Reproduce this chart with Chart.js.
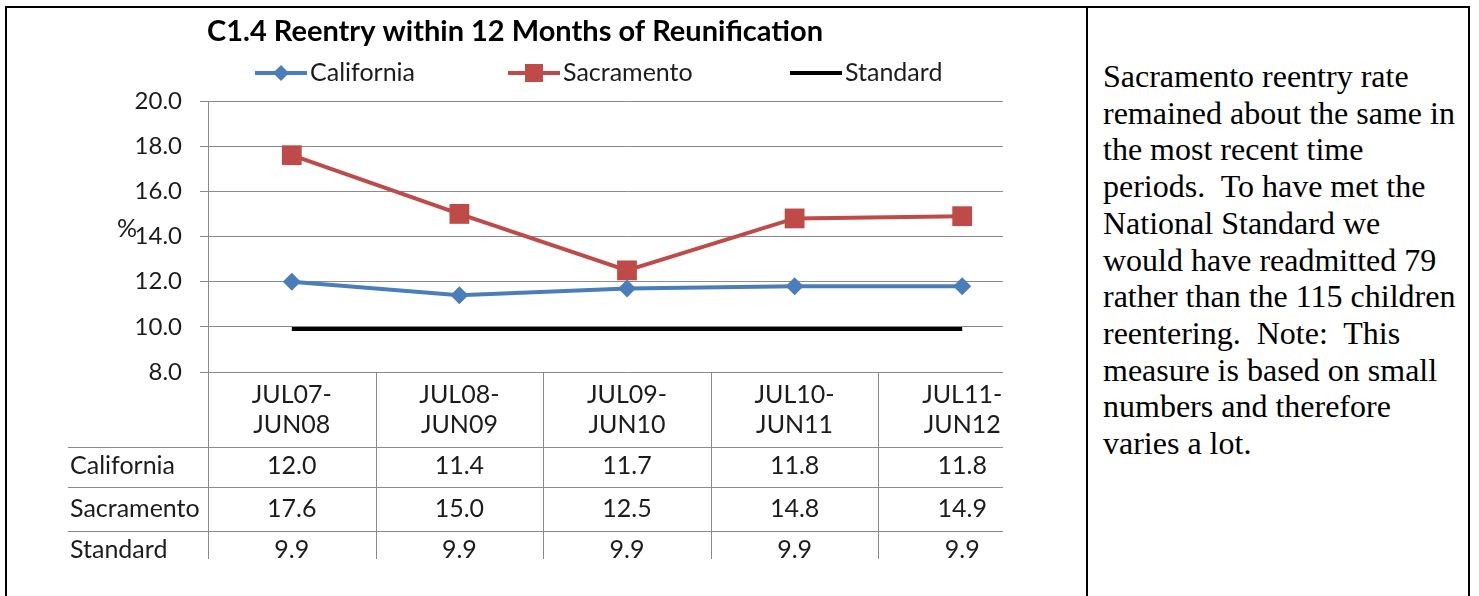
<!DOCTYPE html>
<html>
<head>
<meta charset="utf-8">
<script src="https://cdn.jsdelivr.net/npm/chart.js@4/dist/chart.umd.min.js"></script>
<style>
  html, body { margin: 0; padding: 0; background: #fff; width: 1479px; height: 596px; overflow: hidden; }
  #frame { position: absolute; left: 5px; top: 6px; width: 1465px; height: 620px; border: 2px solid #000; box-sizing: border-box; }
  #divider { position: absolute; left: 1086px; top: 6px; width: 2px; height: 620px; background: #000; }
  #chartWrap { position: absolute; left: 0; top: 0; width: 1003px; height: 559px; overflow: hidden; }
  #note { position: absolute; left: 1103px; top: 58px; width: 370px; font-family: "Liberation Serif", "Times New Roman", serif; font-size: 32px; line-height: 36.7px; color: #000; white-space: nowrap; }
</style>
</head>
<body>
<div id="frame"></div>
<div id="divider"></div>
<div id="chartWrap"><canvas id="c" width="1060" height="596"></canvas></div>
<div id="note">Sacramento reentry rate<br>remained about the same in<br>the most recent time<br>periods.&nbsp; To have met the<br>National Standard we<br>would have readmitted 79<br>rather than the 115 children<br>reentering.&nbsp; Note:&nbsp; This<br>measure is based on small<br>numbers and therefore<br>varies a lot.</div>
<script>
const categories = [["JUL07-", "JUN08"], ["JUL08-", "JUN09"], ["JUL09-", "JUN10"], ["JUL10-", "JUN11"], ["JUL11-", "JUN12"]];
const california = [12.0, 11.4, 11.7, 11.8, 11.8];
const sacramento = [17.6, 15.0, 12.5, 14.8, 14.9];
const standard = [9.9, 9.9, 9.9, 9.9, 9.9];
const yMin = 8, yMax = 20, yStep = 2;
const chartTitle = "C1.4 Reentry within 12 Months of Reunification";
const yTitle = "%";

const FONT = "Lato, 'Noto Sans', sans-serif";
const TEXT = "#1c1c1c";
const GRID = "#8a8a8a";
const FS = 25;

function marker(ctx, style, color, x, y, r) {
  ctx.save();
  ctx.fillStyle = color;
  ctx.beginPath();
  if (style === 'rectRot') {
    ctx.moveTo(x, y - r); ctx.lineTo(x + r, y); ctx.lineTo(x, y + r); ctx.lineTo(x - r, y); ctx.closePath();
  } else if (style === 'rect') {
    ctx.rect(x - r, y - r, 2 * r, 2 * r);
  }
  ctx.fill();
  ctx.restore();
}

const decorPlugin = {
  id: 'decor',
  afterDraw(chart) {
    const ctx = chart.ctx;
    const xs = chart.scales.x, ys = chart.scales.y;
    const area = chart.chartArea;
    ctx.save();
    // Title
    ctx.fillStyle = "#000";
    ctx.font = "bold 29px " + FONT;
    ctx.textAlign = "center";
    ctx.textBaseline = "middle";
    ctx.fillText(chartTitle, 515, 32);

    // Legend
    const legendX = [255, 508, 790];
    const legendY = 73;
    ctx.font = FS + "px " + FONT;
    ctx.textAlign = "left";
    chart.data.datasets.forEach((ds, i) => {
      const x0 = legendX[i];
      ctx.strokeStyle = ds.borderColor;
      ctx.lineWidth = 4;
      ctx.beginPath(); ctx.moveTo(x0, legendY); ctx.lineTo(x0 + 52, legendY); ctx.stroke();
      if (ds.pointStyle && ds.pointRadius > 0) {
        marker(ctx, ds.pointStyle, ds.backgroundColor, x0 + 26, legendY, ds.pointStyle === 'rect' ? 9 : 8);
      }
      ctx.fillStyle = TEXT;
      ctx.fillText(ds.label, x0 + 55, legendY);
    });

    // Y axis title
    ctx.font = FS + "px " + FONT;
    ctx.textAlign = "center";
    ctx.fillText(yTitle, 127, (area.top + area.bottom) / 2 - 8);

    // Data table
    const n = categories.length;
    const half = (xs.getPixelForValue(1) - xs.getPixelForValue(0)) / 2;
    const rowLines = [area.bottom + 75, area.bottom + 115, area.bottom + 159];
    const tableBottom = 600;
    ctx.strokeStyle = GRID;
    ctx.lineWidth = 1;
    for (let i = 0; i <= n; i++) {
      const x = Math.round(xs.getPixelForValue(0) - half + i * 2 * half) + 0.5;
      ctx.beginPath(); ctx.moveTo(x, area.bottom); ctx.lineTo(x, tableBottom); ctx.stroke();
    }
    rowLines.forEach(y => {
      ctx.beginPath(); ctx.moveTo(68, Math.round(y) + 0.5); ctx.lineTo(area.right, Math.round(y) + 0.5); ctx.stroke();
    });
    ctx.fillStyle = TEXT;
    ctx.font = FS + "px " + FONT;
    ctx.textAlign = "center";
    ctx.textBaseline = "middle";
    categories.forEach((lines, i) => {
      const x = xs.getPixelForValue(i);
      ctx.fillText(lines[0], x, area.bottom + 23);
      ctx.fillText(lines[1], x, area.bottom + 53);
    });
    const rowCenters = [area.bottom + 94, area.bottom + 137, area.bottom + 178];
    chart.data.datasets.forEach((ds, r) => {
      ctx.textAlign = "left";
      ctx.fillText(ds.label, 70, rowCenters[r]);
      ctx.textAlign = "center";
      ds.data.forEach((v, i) => {
        ctx.fillText(v.toFixed(1), xs.getPixelForValue(i), rowCenters[r]);
      });
    });
    ctx.restore();
  }
};

new Chart(document.getElementById('c'), {
  type: 'line',
  data: {
    labels: categories.map(c => c.join('')),
    datasets: [
      { label: 'California', data: california, borderColor: '#4a7ebb', backgroundColor: '#4a7ebb', borderWidth: 4, pointStyle: 'rectRot', pointRadius: 9, pointBorderWidth: 0, tension: 0 },
      { label: 'Sacramento', data: sacramento, borderColor: '#be4b48', backgroundColor: '#be4b48', borderWidth: 4, pointStyle: 'rect', pointRadius: 14, pointBorderWidth: 0, tension: 0 },
      { label: 'Standard', data: standard, borderColor: '#000000', backgroundColor: '#000000', borderWidth: 4, pointRadius: 0, tension: 0 }
    ]
  },
  options: {
    responsive: false,
    animation: false,
    events: [],
    layout: { padding: { top: 101, bottom: 224, left: 0, right: 14 } },
    plugins: { legend: { display: false }, title: { display: false }, tooltip: { enabled: false } },
    scales: {
      x: { type: 'category', offset: true, display: false },
      y: {
        min: yMin, max: yMax,
        afterFit(scale) { scale.width = 208; },
        ticks: { stepSize: yStep, padding: 18, color: TEXT, font: { family: FONT, size: 24 }, callback: v => Number(v).toFixed(1) },
        grid: { color: GRID, lineWidth: 1, tickLength: 8, drawTicks: true },
        border: { color: GRID, width: 1 }
      }
    }
  },
  plugins: [decorPlugin]
});
</script>
</body>
</html>
